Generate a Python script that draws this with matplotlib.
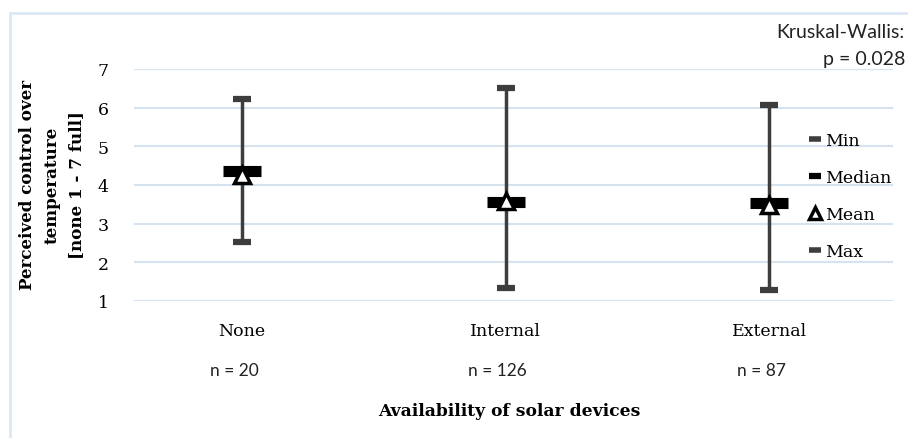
import matplotlib.pyplot as plt
from matplotlib.lines import Line2D
from matplotlib.patches import Rectangle
from matplotlib.transforms import blended_transform_factory

# summary statistics per group
groups = ['None', 'Internal', 'External']
n_obs = [20, 126, 87]
min_vals = [2.53, 1.33, 1.28]
max_vals = [6.22, 6.52, 6.07]
median_vals = [4.35, 3.56, 3.53]
mean_vals = [4.25, 3.58, 3.47]
p_value = 0.028

SERIF = 'DejaVu Serif'
SANS = 'Lato'
GRID = '#d5e2ef'
DARK = '#3d3d3d'

W, H = 908, 439
fig = plt.figure(figsize=(W / 100, H / 100), dpi=100)

# outer chart frame
fig.patches.append(Rectangle((10 / W, -0.2), 1.2, 1.2 - 14 / H,
                             transform=fig.transFigure, fill=False,
                             edgecolor='#dce8f4', linewidth=2))

ax = fig.add_axes([134 / W, 137 / H, 759 / W, 232 / H])
ax.set_ylim(1, 7)
ax.set_xlim(-0.41, 2.47)
ax.set_yticks(range(1, 8))
ax.grid(axis='y', color=GRID, linewidth=1.5)
ax.set_axisbelow(True)
for s in ax.spines.values():
    s.set_visible(False)
ax.tick_params(axis='both', length=0)
ax.tick_params(axis='y', pad=18, labelsize=12.5)
ax.tick_params(axis='x', pad=15, labelsize=12.5)

x = list(range(len(groups)))
ax.set_xticks(x, groups)
for lab in ax.get_yticklabels() + ax.get_xticklabels():
    lab.set_fontfamily(SERIF)

# range lines and caps
ax.vlines(x, min_vals, max_vals, color=DARK, linewidth=2.5, zorder=2)
ax.plot(x, min_vals, linestyle='none', marker='_', markersize=13, mew=4.5,
        color=DARK, zorder=3, clip_on=False)
ax.plot(x, max_vals, linestyle='none', marker='_', markersize=13, mew=4.5,
        color=DARK, zorder=3, clip_on=False)
ax.plot(x, median_vals, linestyle='none', marker='_', markersize=27, mew=8,
        color='black', zorder=4)
ax.plot(x, mean_vals, linestyle='none', marker='^', markersize=12, mew=2.5,
        markerfacecolor='white', markeredgecolor='black', zorder=5)

# legend
handles = [
    Line2D([], [], linestyle='none', marker='_', markersize=9, mew=4, color=DARK),
    Line2D([], [], linestyle='none', marker='_', markersize=9, mew=4.5, color='black'),
    Line2D([], [], linestyle='none', marker='^', markersize=9, mew=2.5,
           markerfacecolor='white', markeredgecolor='black'),
    Line2D([], [], linestyle='none', marker='_', markersize=9, mew=4, color=DARK),
]
ax.legend(handles, ['Min', 'Median', 'Mean', 'Max'], loc='center left',
          bbox_to_anchor=(810 / W, 1 - 197 / H), bbox_transform=fig.transFigure,
          frameon=False, borderpad=0, borderaxespad=0, handlelength=0.6,
          handletextpad=0.25, labelspacing=1.15,
          prop={'family': SERIF, 'size': 12.5})

# sample sizes under the category labels
n_trans = blended_transform_factory(ax.transData, fig.transFigure)
for xi, n in zip(x, n_obs):
    ax.text(xi - 0.03, 1 - 371 / H, f'n = {n}', transform=n_trans,
            ha='center', va='center', fontsize=12.5, family=SANS, color='#222222')

fig.text(52 / W, 1 - 185 / H, 'Perceived control over\ntemperature\n[none 1 - 7 full]',
         rotation=90, ha='center', va='center', multialignment='center',
         fontsize=12.1, fontweight='bold', family=SERIF, linespacing=1.6)
fig.text(509 / W, 1 - 412 / H, 'Availability of solar devices', ha='center', va='center',
         fontsize=12.3, fontweight='bold', family=SERIF)

fig.text(905 / W, 1 - 33 / H, 'Kruskal-Wallis:', ha='right', va='center',
         fontsize=14, family=SANS, color='#222222')
fig.text(905 / W, 1 - 60 / H, f'p = {p_value:.3f}', ha='right', va='center',
         fontsize=14, family=SANS, color='#222222')

fig.savefig('out.png', dpi=100)
